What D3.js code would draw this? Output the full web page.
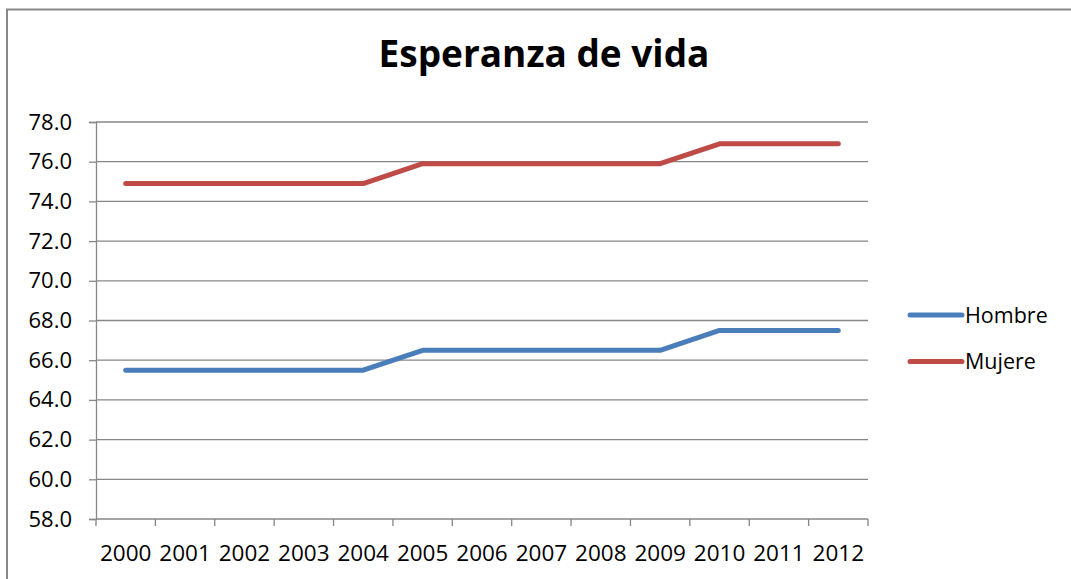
<!DOCTYPE html>
<html>
<head>
<meta charset="utf-8">
<script src="https://cdn.jsdelivr.net/npm/d3@7"></script>
<style>
  html, body { margin: 0; padding: 0; background: #fff; }
  svg { display: block; }
</style>
</head>
<body>
<svg id="svg"></svg>
<script>
// datos
const years = ['2000', '2001', '2002', '2003', '2004', '2005', '2006', '2007', '2008', '2009', '2010', '2011', '2012']
const hombre = [65.5, 65.5, 65.5, 65.5, 65.5, 66.5, 66.5, 66.5, 66.5, 66.5, 67.5, 67.5, 67.5]
const mujere = [74.9, 74.9, 74.9, 74.9, 74.9, 75.9, 75.9, 75.9, 75.9, 75.9, 76.9, 76.9, 76.9]
const yTicks = [58, 60, 62, 64, 66, 68, 70, 72, 74, 76, 78]
const seriesNames = ['Hombre', 'Mujere']
const seriesColors = ['#4a7ebb', '#be4b48']

const font = '"Open Sans", "Noto Sans", sans-serif'
const gridColor = '#878787'

const svg = d3.select('#svg').attr('width', 1071).attr('height', 579)

// marco del grafico
svg.append('rect')
    .attr('x', 7).attr('y', 9.5)
    .attr('width', 1100).attr('height', 600)
    .attr('fill', '#fff')
    .attr('stroke', '#888').attr('stroke-width', 2)

// titulo
svg.append('text')
    .text('Esperanza de vida')
    .attr('x', 544).attr('y', 67)
    .attr('text-anchor', 'middle')
    .attr('font-family', font)
    .attr('font-weight', 'bold')
    .attr('font-size', 37)
    .attr('fill', '#000')

const x = d3.scaleBand().domain(years).range([96, 868])
const y = d3.scaleLinear().domain([58, 78]).range([519, 122])

// lineas de division
svg.append('g')
    .selectAll('line')
    .data(yTicks.filter(d => d > 58))
    .join('line')
    .attr('x1', 96).attr('x2', 868)
    .attr('y1', d => y(d)).attr('y2', d => y(d))
    .attr('stroke', gridColor).attr('stroke-width', 1.3)

// eje Y
const yAxis = svg.append('g')
    .attr('transform', 'translate(96,0)')
    .call(d3.axisLeft(y).tickValues(yTicks).tickSize(7).tickPadding(17).tickFormat(d3.format('.1f')))
yAxis.select('.domain').attr('stroke', gridColor).attr('stroke-width', 1.3)
yAxis.selectAll('.tick line').attr('stroke', gridColor).attr('stroke-width', 1.3)
yAxis.selectAll('.tick text')
    .attr('font-family', font).attr('font-size', 22).attr('fill', '#000')

// eje X
const xAxis = svg.append('g')
    .attr('transform', 'translate(0,519)')
    .call(d3.axisBottom(x).tickSize(0).tickPadding(26))
xAxis.select('.domain').remove()
xAxis.selectAll('.tick text')
    .attr('font-family', font).attr('font-size', 22.5).attr('fill', '#000')

svg.append('line')
    .attr('x1', 96).attr('x2', 868)
    .attr('y1', 519).attr('y2', 519)
    .attr('stroke', gridColor).attr('stroke-width', 1.3)

const edges = years.map(d => x(d)).concat([x(years[years.length - 1]) + x.bandwidth()])
svg.append('g')
    .selectAll('line')
    .data(edges)
    .join('line')
    .attr('x1', d => d).attr('x2', d => d)
    .attr('y1', 519).attr('y2', 526)
    .attr('stroke', gridColor).attr('stroke-width', 1.3)

// series
const line = d3.line()
    .x((d, i) => x(years[i]) + x.bandwidth() / 2)
    .y(d => y(d))

;[hombre, mujere].forEach((values, idx) => {
    svg.append('path')
        .datum(values)
        .attr('d', line)
        .attr('fill', 'none')
        .attr('stroke', seriesColors[idx])
        .attr('stroke-width', 5)
        .attr('stroke-linecap', 'round')
        .attr('stroke-linejoin', 'round')
})

// leyenda
const legendY = d3.scalePoint().domain(seriesNames).range([315, 361.5])
seriesNames.forEach((name, idx) => {
    svg.append('line')
        .attr('x1', 910).attr('x2', 962)
        .attr('y1', legendY(name)).attr('y2', legendY(name))
        .attr('stroke', seriesColors[idx])
        .attr('stroke-width', 5)
        .attr('stroke-linecap', 'round')
    svg.append('text')
        .text(name)
        .attr('x', 965).attr('y', legendY(name))
        .attr('dy', '0.35em')
        .attr('font-family', font)
        .attr('font-size', 21.5)
        .attr('fill', '#000')
})
</script>
</body>
</html>
